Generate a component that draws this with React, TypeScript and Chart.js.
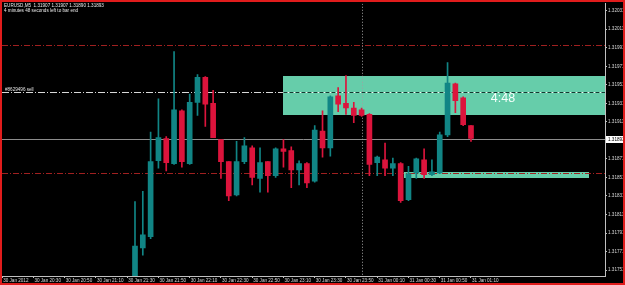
import React, { useEffect, useRef } from 'react';
import { Chart, registerables } from 'chart.js';

Chart.register(...registerables);

// ---------- text ----------
const TITLE_LINE = 'EURUSD,M5  1.31907 1.31907 1.31890 1.31893';
const TIMER_LINE = '4 minutes 48 seconds left to bar end';
const ORDER_LABEL = '#8629496 sell';
const COUNTDOWN = '4:48';

// ---------- candles (bar index, M5 bars from 30 Jan 20:10) ----------
const BAR_INDEX = [17,18,19,20,21,22,23,24,25,26,27,28,29,30,31,32,33,34,35,36,37,38,39,40,41,42,43,44,45,46,47,48,49,50,51,52,53,54,55,56,57,58,59,60];
const OPEN = [1.31735,1.31775,1.31787,1.31869,1.31893,1.31866,1.31923,1.31866,1.31932,1.31959,1.31931,1.31892,1.31868,1.31832,1.31868,1.31883,1.31850,1.31868,1.31853,1.31882,1.31880,1.31859,1.31866,1.31847,1.31901,1.31883,1.31939,1.31931,1.31926,1.31924,1.31919,1.31867,1.31870,1.31861,1.31866,1.31827,1.31856,1.31870,1.31854,1.31856,1.31897,1.31952,1.31937,1.31907];
const HIGH = [1.31825,1.31836,1.31900,1.31936,1.31895,1.31987,1.31924,1.31941,1.31962,1.31960,1.31945,1.31892,1.31868,1.31890,1.31894,1.31885,1.31883,1.31868,1.31883,1.31892,1.31884,1.31869,1.31867,1.31907,1.31923,1.31939,1.31948,1.31961,1.31932,1.31926,1.31920,1.31874,1.31888,1.31872,1.31867,1.31863,1.31872,1.31882,1.31870,1.31900,1.31975,1.31953,1.31938,1.31907];
const LOW = [1.31730,1.31767,1.31785,1.31861,1.31858,1.31865,1.31862,1.31865,1.31918,1.31906,1.31894,1.31850,1.31826,1.31831,1.31866,1.31843,1.31835,1.31835,1.31851,1.31862,1.31840,1.31843,1.31840,1.31846,1.31873,1.31874,1.31922,1.31919,1.31910,1.31917,1.31853,1.31853,1.31853,1.31853,1.31824,1.31826,1.31850,1.31850,1.31853,1.31855,1.31895,1.31921,1.31907,1.31890];
const CLOSE = [1.31777,1.31789,1.31868,1.31894,1.31867,1.31924,1.31868,1.31932,1.31959,1.31930,1.31894,1.31868,1.31831,1.31868,1.31885,1.31851,1.31867,1.31853,1.31882,1.31879,1.31859,1.31866,1.31845,1.31902,1.31883,1.31938,1.31930,1.31926,1.31918,1.31918,1.31865,1.31873,1.31861,1.31866,1.31826,1.31855,1.31871,1.31854,1.31857,1.31897,1.31953,1.31934,1.31908,1.31893];

// ---------- axes ----------
const TIME_TICK_BARS = [0,4,8,12,16,20,24,28,32,36,40,44,48,52,56,60];
const TIME_TICK_LABELS = ['30 Jan 2012','30 Jan 20:30','30 Jan 20:50','30 Jan 21:10','30 Jan 21:30','30 Jan 21:50','30 Jan 22:10','30 Jan 22:30','30 Jan 22:50','30 Jan 23:10','30 Jan 23:30','30 Jan 23:50','31 Jan 00:10','31 Jan 00:30','31 Jan 00:50','31 Jan 01:10'];
const PRICE_TICKS = [1.31751,1.31771,1.31791,1.31811,1.31831,1.31851,1.31871,1.31911,1.31931,1.31951,1.31971,1.31991,1.32011,1.32031];
const Y_MIN = 1.317446;
const Y_MAX = 1.320385;
const X_MIN = -0.02;
const X_MAX = 77.15;

// ---------- levels / objects ----------
const BID = 1.31893;
const RED_LEVELS = [1.31994, 1.31856];
const ORDER_LEVEL = 1.31943;
const UPPER_ZONE = [36, 77.15, 1.31961, 1.31918];
const LOWER_ZONE = [51.4, 75.1, 1.31857, 1.31850];
const DAY_SEPARATOR_BAR = 46;
const COUNTDOWN_AT = [64.1, 1.31936];

const UP = '#118585';
const DOWN = '#dc143c';
const ZONE = '#66cdaa';
const FONT = '"Liberation Sans", Arial, sans-serif';

const mt4Plugin = {
  id: 'mt4',
  beforeDatasetsDraw(chart: any) {
    const { ctx, chartArea: a, scales } = chart;
    const x = scales.x, y = scales.y;
    ctx.save();
    ctx.beginPath();
    ctx.rect(a.left, a.top, a.right - a.left, a.bottom - a.top);
    ctx.clip();

    // zones
    ctx.fillStyle = ZONE;
    for (const z of [UPPER_ZONE, LOWER_ZONE]) {
      const x0 = x.getPixelForValue(z[0]);
      const x1 = x.getPixelForValue(z[1]);
      const y0 = y.getPixelForValue(z[2]);
      const y1 = y.getPixelForValue(z[3]);
      ctx.fillRect(Math.round(x0), Math.round(y0), Math.round(x1) - Math.round(x0), Math.round(y1) - Math.round(y0));
    }

    ctx.lineWidth = 1;
    // red dash-dot levels
    ctx.strokeStyle = '#a02020';
    ctx.setLineDash([6, 2, 1, 2]);
    for (const lv of RED_LEVELS) {
      const py = Math.round(y.getPixelForValue(lv)) + 0.5;
      ctx.beginPath();
      ctx.moveTo(a.left, py);
      ctx.lineTo(a.right, py);
      ctx.stroke();
    }

    // order line
    const oy = Math.round(y.getPixelForValue(ORDER_LEVEL)) + 0.5;
    ctx.strokeStyle = '#d8d8d8';
    ctx.setLineDash([7, 2, 1, 2]);
    ctx.beginPath();
    ctx.moveTo(a.left, oy);
    ctx.lineTo(a.right, oy);
    ctx.stroke();
    const zx0 = x.getPixelForValue(UPPER_ZONE[0]);
    const zx1 = x.getPixelForValue(UPPER_ZONE[1]);
    ctx.setLineDash([]);
    ctx.strokeStyle = '#eafff6';
    ctx.beginPath();
    ctx.moveTo(zx0, oy);
    ctx.lineTo(zx1, oy);
    ctx.stroke();
    ctx.strokeStyle = '#123a30';
    ctx.setLineDash([4, 2]);
    ctx.beginPath();
    ctx.moveTo(zx0, oy);
    ctx.lineTo(zx1, oy);
    ctx.stroke();

    // bid line
    ctx.setLineDash([]);
    ctx.strokeStyle = '#8c8c8c';
    const by = Math.round(y.getPixelForValue(BID)) + 0.5;
    ctx.beginPath();
    ctx.moveTo(a.left, by);
    ctx.lineTo(a.right, by);
    ctx.stroke();

    // day separator
    ctx.strokeStyle = '#a0a0a0';
    ctx.setLineDash([1, 2]);
    const sx = Math.round(x.getPixelForValue(DAY_SEPARATOR_BAR)) + 0.5;
    ctx.beginPath();
    ctx.moveTo(sx, a.top);
    ctx.lineTo(sx, a.bottom);
    ctx.stroke();
    ctx.setLineDash([]);

    // countdown
    ctx.fillStyle = '#f4fffb';
    ctx.font = '12.5px ' + FONT;
    ctx.textAlign = 'center';
    ctx.textBaseline = 'middle';
    ctx.fillText(COUNTDOWN, x.getPixelForValue(COUNTDOWN_AT[0]), y.getPixelForValue(COUNTDOWN_AT[1]));

    // order label
    ctx.fillStyle = '#e0e0e0';
    ctx.font = '4.6px ' + FONT;
    ctx.textAlign = 'left';
    ctx.textBaseline = 'alphabetic';
    ctx.fillText(ORDER_LABEL, a.left + 3, oy - 2);

    ctx.restore();
  },
  afterDraw(chart: any) {
    const { ctx, chartArea: a, scales, width, height } = chart;
    const y = scales.y;
    ctx.save();
    // top-left info
    ctx.fillStyle = '#e8e8e8';
    ctx.font = '4.6px ' + FONT;
    ctx.textAlign = 'left';
    ctx.textBaseline = 'middle';
    ctx.fillText(TITLE_LINE, 4, 5.5);
    ctx.fillText(TIMER_LINE, 4, 10.5);

    // bid price marker on axis
    const by = Math.round(y.getPixelForValue(BID));
    ctx.fillStyle = '#ffffff';
    ctx.fillRect(a.right + 1, by - 3, 18, 7);
    ctx.fillStyle = '#000000';
    ctx.fillText(BID.toFixed(5), a.right + 3, by + 0.5);

    // red frame
    ctx.strokeStyle = '#e01c1c';
    ctx.lineWidth = 2;
    ctx.strokeRect(1, 1, width - 2, height - 2);
    ctx.restore();
  },
};

export default function App() {
  const ref = useRef<HTMLCanvasElement | null>(null);

  useEffect(() => {
    if (!ref.current) return;
    const colors = BAR_INDEX.map((_, i) => (CLOSE[i] >= OPEN[i] ? UP : DOWN));
    const bodies = BAR_INDEX.map((k, i) => ({ x: k, y: [Math.min(OPEN[i], CLOSE[i]), Math.max(OPEN[i], CLOSE[i])] }));
    const wicks = BAR_INDEX.map((k, i) => ({ x: k, y: [LOW[i], HIGH[i]] }));

    const chart = new Chart(ref.current, {
      type: 'bar',
      data: {
        datasets: [
          {
            data: bodies as any,
            backgroundColor: colors,
            barThickness: 5,
            grouped: false,
            borderWidth: 0,
            minBarLength: 1,
            clip: 0,
          } as any,
          {
            data: wicks as any,
            backgroundColor: colors,
            barThickness: 1,
            grouped: false,
            borderWidth: 0,
            clip: 0,
          } as any,
        ],
      },
      options: {
        animation: false,
        responsive: true,
        maintainAspectRatio: false,
        layout: { padding: { left: 2, top: 2, right: 0, bottom: 0 } },
        plugins: { legend: { display: false }, tooltip: { enabled: false } },
        scales: {
          x: {
            type: 'linear',
            offset: false,
            min: X_MIN,
            max: X_MAX,
            afterBuildTicks: (axis: any) => {
              axis.ticks = TIME_TICK_BARS.map((v) => ({ value: v }));
            },
            afterFit: (axis: any) => {
              axis.height = 9;
            },
            ticks: {
              autoSkip: false,
              maxRotation: 0,
              minRotation: 0,
              align: 'start',
              labelOffset: 1,
              padding: 0,
              color: '#d8d8d8',
              font: { size: 4.6, family: FONT },
              callback: (_v: any, i: number) => TIME_TICK_LABELS[i],
            },
            grid: { offset: false, drawOnChartArea: false, drawTicks: true, tickLength: 2, color: '#c0c0c0' },
            border: { display: true, color: '#c0c0c0' },
          },
          y: {
            type: 'linear',
            position: 'right',
            min: Y_MIN,
            max: Y_MAX,
            afterBuildTicks: (axis: any) => {
              axis.ticks = PRICE_TICKS.map((v) => ({ value: v }));
            },
            afterFit: (axis: any) => {
              axis.width = 20;
            },
            ticks: {
              autoSkip: false,
              padding: 1,
              color: '#d8d8d8',
              font: { size: 4.6, family: FONT },
              callback: (v: any) => Number(v).toFixed(5),
            },
            grid: { drawOnChartArea: false, drawTicks: true, tickLength: 2, color: '#c0c0c0' },
            border: { display: true, color: '#c0c0c0' },
          },
        },
      },
      plugins: [mt4Plugin],
    });
    return () => chart.destroy();
  }, []);

  return (
    <div style={{ position: 'fixed', left: 0, top: 0, width: 625, height: 285, background: '#000' }}>
      <canvas ref={ref} />
    </div>
  );
}
